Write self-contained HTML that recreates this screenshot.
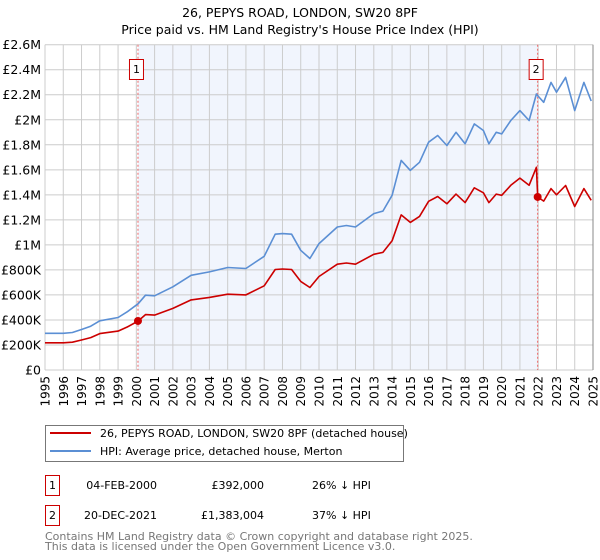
<!DOCTYPE html>
<html><head><meta charset="utf-8"><style>
body{margin:0;background:#fff;}
svg{display:block}
svg, svg text{font-family:"DejaVu Sans","Liberation Sans",sans-serif;}
</style></head><body>
<svg id="chart" width="600" height="560" xmlns="http://www.w3.org/2000/svg">
<text x="300" y="17" text-anchor="middle" font-size="12.5">26, PEPYS ROAD, LONDON, SW20 8PF</text>
<text x="300" y="34" text-anchor="middle" font-size="12.5">Price paid vs. HM Land Registry's House Price Index (HPI)</text>
<g id="plot"></g>
<g>
<rect x="45.5" y="425.5" width="358" height="36" fill="#fff" stroke="#777"/>
<line x1="50" y1="433" x2="91" y2="433" stroke="#cc0000" stroke-width="2"/>
<text x="100" y="437" font-size="11">26, PEPYS ROAD, LONDON, SW20 8PF (detached house)</text>
<line x1="50" y1="451" x2="91" y2="451" stroke="#5b8fd4" stroke-width="2"/>
<text x="100" y="455" font-size="11">HPI: Average price, detached house, Merton</text>
</g>
<g font-size="11">
<rect x="45.5" y="475.5" width="14" height="20" fill="#fff" stroke="#cc0000"/>
<text x="52.5" y="489" text-anchor="middle">1</text>
<text x="157" y="489" text-anchor="end">04-FEB-2000</text>
<text x="264" y="489" text-anchor="end">£392,000</text>
<text x="312" y="489">26% ↓ HPI</text>
<rect x="45.5" y="505.5" width="14" height="20" fill="#fff" stroke="#cc0000"/>
<text x="52.5" y="519" text-anchor="middle">2</text>
<text x="157" y="519" text-anchor="end">20-DEC-2021</text>
<text x="264" y="519" text-anchor="end">£1,383,004</text>
<text x="312" y="519">37% ↓ HPI</text>
</g>
<text x="45" y="540" font-size="11" fill="#777">Contains HM Land Registry data © Crown copyright and database right 2025.</text>
<text x="45" y="550" font-size="11" fill="#777">This data is licensed under the Open Government Licence v3.0.</text>
</svg>
<script>
const dates=[1995.0,1996.0,1996.5,1997.0,1997.5,1998.0,1999.0,1999.5,2000.1,2000.5,2001.0,2002.0,2003.0,2004.0,2005.0,2006.0,2007.0,2007.6,2008.0,2008.5,2009.0,2009.5,2010.0,2011.0,2011.5,2012.0,2013.0,2013.5,2014.0,2014.5,2015.0,2015.5,2016.0,2016.5,2017.0,2017.5,2018.0,2018.5,2019.0,2019.3,2019.7,2020.0,2020.5,2021.0,2021.5,2021.9,2021.97,2022.3,2022.7,2023.0,2023.5,2024.0,2024.5,2024.9];
const hpiValues=[293,293,300,324,350,393,420,465,530,598,593,665,757,784,819,811,909,1085,1090,1085,957,891,1010,1143,1155,1143,1250,1270,1396,1675,1595,1660,1821,1874,1794,1900,1808,1967,1914,1808,1900,1887,1994,2073,1994,2206,2193,2140,2299,2220,2339,2073,2299,2150];
const propertyValues=[217,217,222,240,259,291,311,344,392,443,439,492,560,580,606,600,673,803,807,803,708,659,747,846,855,846,925,940,1033,1240,1180,1228,1348,1387,1328,1406,1338,1456,1416,1338,1406,1396,1476,1534,1476,1620,1383,1350,1450,1400,1475,1307,1450,1356];
const saleDates=[2000.09,2021.97];
const salePrices=[392,1383];
const saleLabels=["1","2"];
const yTicks=[0,200,400,600,800,1000,1200,1400,1600,1800,2000,2200,2400,2600];
const yTickLabels=["£0","£200K","£400K","£600K","£800K","£1M","£1.2M","£1.4M","£1.6M","£1.8M","£2M","£2.2M","£2.4M","£2.6M"];
const xTicks=[1995,1996,1997,1998,1999,2000,2001,2002,2003,2004,2005,2006,2007,2008,2009,2010,2011,2012,2013,2014,2015,2016,2017,2018,2019,2020,2021,2022,2023,2024,2025];

const X0=45,X1=593,Y0=370,Y1=44.7;
const xs=d=>X0+(d-1995)/30*(X1-X0);
const ys=v=>Y0-v/2600*(Y0-Y1);
const NS="http://www.w3.org/2000/svg";
const g=document.getElementById('plot');
function mk(tag,attrs,parent){const e=document.createElementNS(NS,tag);for(const k in attrs)e.setAttribute(k,attrs[k]);(parent||g).appendChild(e);return e;}

const shade=mk('rect',{x:xs(saleDates[0]),y:Y1,width:xs(saleDates[1])-xs(saleDates[0]),height:Y0-Y1,fill:'#f1f5fd'});


xTicks.forEach(t=>{
  const l=mk('line',{x1:xs(t),x2:xs(t),y1:Y1,y2:Y0,stroke:'#cccccc'});
  
  
  const tx=mk('text',{x:0,y:0,'font-size':12,'text-anchor':'end',transform:`translate(${xs(t)+4.5},${Y0+6}) rotate(-90)`});
  tx.textContent=t;
  
  
});
yTicks.forEach((t,i)=>{
  const l=mk('line',{x1:X0,x2:X1,y1:ys(t),y2:ys(t),stroke:'#cccccc'});
  
  
  const tx=mk('text',{x:41,y:ys(t)+4.5,'font-size':12.5,'text-anchor':'end'});
  tx.textContent=yTickLabels[i];
  
  
});
saleDates.forEach((d,i)=>{
  const l=mk('line',{x1:xs(d),x2:xs(d),y1:Y1,y2:Y0,stroke:'#ee6666','stroke-dasharray':'2,2'});
  
  
  const r=mk('rect',{x:xs(d)-8.5,y:59.5,width:14,height:20,fill:'#fff',stroke:'#cc0000'});
  
  
  const t=mk('text',{x:xs(d)-1.5,y:73,'font-size':11,'text-anchor':'middle'});
  t.textContent=saleLabels[i];
  
  
});
const pts=a=>dates.map((d,i)=>xs(d).toFixed(1)+','+ys(a[i]).toFixed(1)).join(' ');
const hl=mk('polyline',{points:pts(hpiValues),fill:'none',stroke:'#5b8fd4','stroke-width':1.6,'stroke-linejoin':'round'});


const pl=mk('polyline',{points:pts(propertyValues),fill:'none',stroke:'#cc0000','stroke-width':1.6,'stroke-linejoin':'round'});


saleDates.forEach((d,i)=>{
  const c=mk('circle',{cx:xs(d),cy:ys(salePrices[i]),r:4,fill:'#cc0000'});
  
  
});
const rb=mk('line',{x1:X1,x2:X1,y1:Y1,y2:Y0,stroke:'#888'});


</script>
</body></html>
